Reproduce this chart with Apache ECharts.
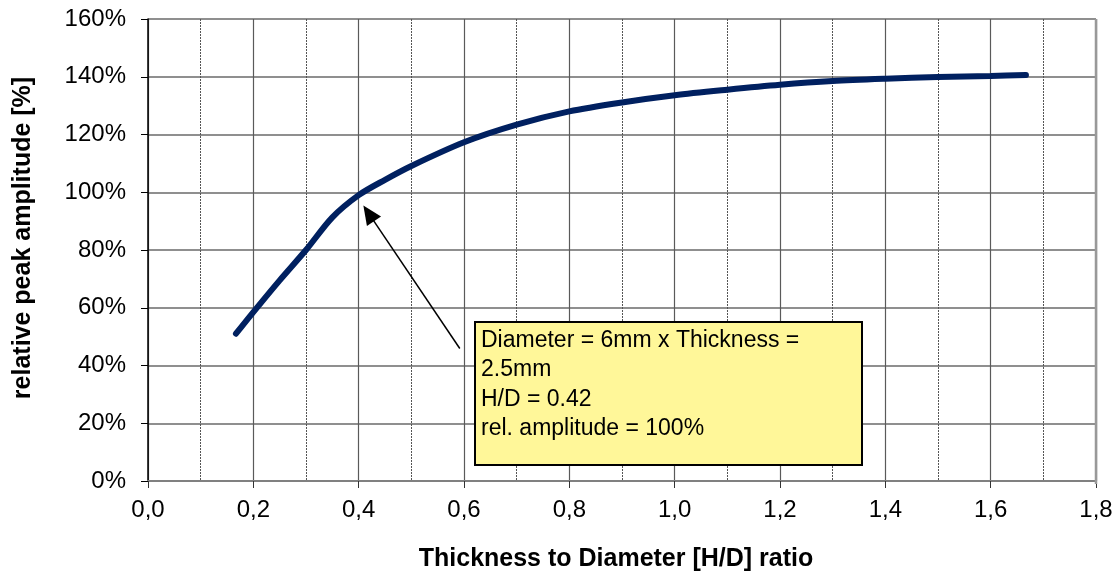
<!DOCTYPE html>
<html>
<head>
<meta charset="utf-8">
<script src="https://cdn.jsdelivr.net/npm/echarts@6/dist/echarts.min.js"></script>
<style>
  html, body { margin: 0; padding: 0; background: #fff; }
  #chart { width: 1120px; height: 577px; }
</style>
</head>
<body>
<div id="chart"></div>
<script>
// H/D ratio readings and relative amplitude (%)
var ratio = [0.167, 0.2, 0.25, 0.3, 0.35, 0.4, 0.45, 0.5, 0.6, 0.7, 0.8, 0.9, 1.0, 1.1, 1.2, 1.3, 1.4, 1.5, 1.6, 1.667];
var amplitude = [51, 58.5, 69.5, 80, 91.3, 99, 104.3, 109.1, 117.3, 123.4, 128, 131.1, 133.6, 135.5, 137.2, 138.5, 139.3, 139.9, 140.3, 140.6];

// annotation arrow: tail and head (data coords)
var arrowFrom = [0.592, 45.9];
var arrowTo = [0.419, 92.7];
var noteLines = ['Diameter = 6mm x Thickness =', '2.5mm', 'H/D = 0.42', 'rel. amplitude = 100%'];

var xTitle = 'Thickness to Diameter [H/D] ratio';
var yTitle = 'relative peak amplitude [%]';

var font = 'Arial, "Liberation Sans", sans-serif';

var chart = echarts.init(document.getElementById('chart'));

var seriesData = ratio.map(function (r, i) { return [r, amplitude[i]]; });

var option = {
    animation: false,
    backgroundColor: '#fff',
    grid: { left: 148, top: 19, right: 24, bottom: 94, containLabel: false },
    xAxis: {
        type: 'value',
        min: 0, max: 1.8, interval: 0.2,
        name: xTitle,
        nameLocation: 'middle',
        nameGap: 66,
        nameTextStyle: { fontFamily: font, fontSize: 25, fontWeight: 'bold', color: '#000', padding: [0, 12, 0, 0] },
        axisLine: { show: true, lineStyle: { color: '#808080', width: 2 } },
        axisTick: { show: true, length: 7, lineStyle: { color: '#333', width: 1 } },
        axisLabel: {
            fontFamily: font, fontSize: 24, color: '#000', margin: 17,
            formatter: function (v) { return v.toFixed(1).replace('.', ','); }
        },
        splitLine: { show: true, lineStyle: { color: '#5a5a5a', width: 1.2 } },
        minorTick: { show: false, splitNumber: 2 },
        minorSplitLine: { show: true, lineStyle: { color: '#555', width: 1, type: [2, 1] } }
    },
    yAxis: {
        type: 'value',
        min: 0, max: 160, interval: 20,
        name: yTitle,
        nameLocation: 'middle',
        nameGap: 112,
        nameTextStyle: { fontFamily: font, fontSize: 25, fontWeight: 'bold', color: '#000', padding: [0, 0, 0, 24] },
        axisLine: { show: true, lineStyle: { color: '#000', width: 1.5 } },
        axisTick: { show: true, length: 7, lineStyle: { color: '#000', width: 1 } },
        axisLabel: { fontFamily: font, fontSize: 24, color: '#000', margin: 22, formatter: '{value}%' },
        splitLine: { show: true, lineStyle: { color: '#6a6a6a', width: 1.5 } }
    },
    series: [{
        type: 'line',
        data: seriesData,
        smooth: 0.3,
        symbol: 'none',
        clip: false,
        lineStyle: { color: '#002060', width: 6, cap: 'round' },
        markLine: {
            silent: true,
            animation: false,
            label: { show: false },
            emphasis: { disabled: true },
            lineStyle: { color: '#000', width: 1.5, type: 'solid' },
            symbolSize: [17, 19],
            data: [[
                { coord: arrowFrom, symbol: 'none' },
                { coord: arrowTo, symbol: 'triangle' }
            ]]
        }
    }],
    graphic: [
        // right border of the plot area
        { type: 'line', shape: { x1: 1096, y1: 19, x2: 1096, y2: 484 }, style: { stroke: '#999', lineWidth: 2.5 }, z: 5 },
        { type: 'rect', left: 474, top: 321, z: 100, zlevel: 1,
          shape: { x: 0, y: 0, width: 387, height: 143 },
          style: { fill: '#fff799', stroke: '#000', lineWidth: 2 } },
        { type: 'text', left: 481, top: 326, z: 101, zlevel: 1,
          style: { text: noteLines.join('\n'), fontFamily: font, fontSize: 23,
                   lineHeight: 29.3, fill: '#000', verticalAlign: 'top', align: 'left' } }
    ]
};

chart.setOption(option);
</script>
</body>
</html>
